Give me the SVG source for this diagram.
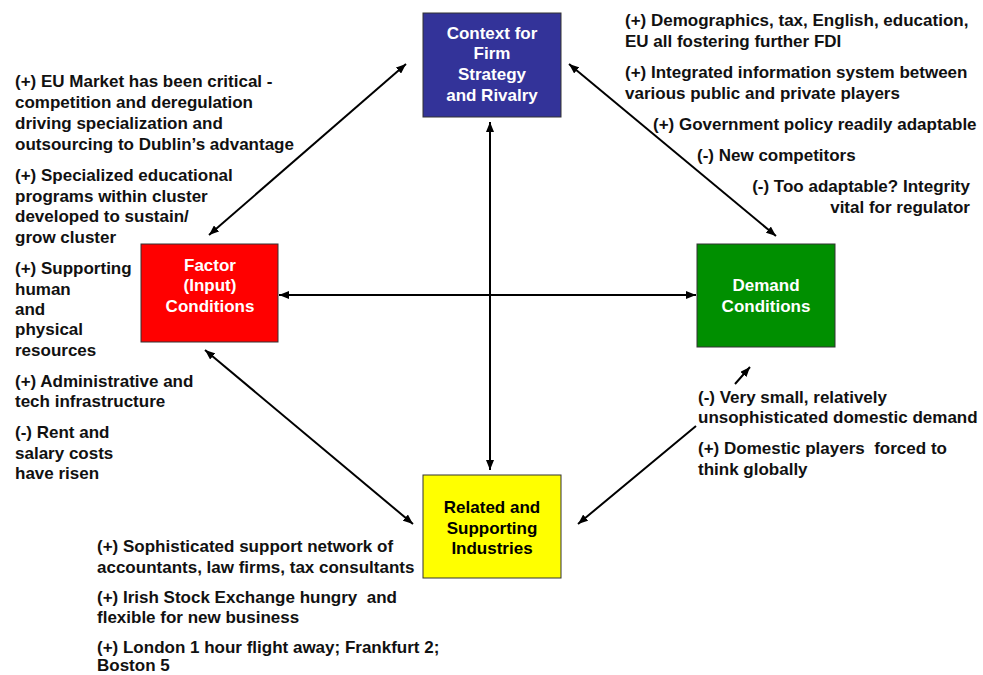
<svg xmlns="http://www.w3.org/2000/svg" width="983" height="675" viewBox="0 0 983 675">
<defs>
<marker id="ah" viewBox="0 0 10 8" refX="10" refY="4" markerWidth="10" markerHeight="8" markerUnits="userSpaceOnUse" orient="auto-start-reverse">
<path d="M0,0 L10,4 L0,8 z" fill="#000"/>
</marker>
<style>
.t{font-family:"Liberation Sans",Arial,sans-serif;font-size:17px;font-weight:bold;fill:#111;white-space:pre}
.bt{font-family:"Liberation Sans",Arial,sans-serif;font-size:17px;font-weight:bold;fill:#fff;text-anchor:middle}
.box{stroke:#333;stroke-width:1}
.c{stroke:#000;stroke-width:2;fill:none;marker-start:url(#ah);marker-end:url(#ah)}
</style>
</defs>
<rect width="983" height="675" fill="#fff"/>
<g id="connectors">
<line class="c" x1="406" y1="64" x2="209" y2="235"/>
<line class="c" x1="569" y1="64" x2="776" y2="236"/>
<line class="c" x1="205" y1="350" x2="413" y2="524"/>
<path class="c" d="M750,367 L735,384 M696,426 L578,524"/>
<line class="c" x1="279" y1="295" x2="696" y2="295"/>
<line class="c" x1="490" y1="122" x2="490" y2="470"/>
</g>
<g id="context">
<rect class="box" x="423" y="13" width="138" height="104" fill="#333399"/>
<text class="bt" x="492" y="39">Context for</text>
<text class="bt" x="492" y="59">Firm</text>
<text class="bt" x="492" y="80">Strategy</text>
<text class="bt" x="492" y="101">and Rivalry</text>
</g>
<g id="factor">
<rect class="box" x="141" y="244" width="137" height="98" fill="#ff0000"/>
<text class="bt" x="210" y="271">Factor</text>
<text class="bt" x="210" y="291">(Input)</text>
<text class="bt" x="210" y="312">Conditions</text>
</g>
<g id="demand">
<rect class="box" x="697" y="244" width="138" height="103" fill="#008f00"/>
<text class="bt" x="766" y="291">Demand</text>
<text class="bt" x="766" y="312">Conditions</text>
</g>
<g id="related">
<rect class="box" x="423" y="475" width="138" height="103" fill="#ffff00"/>
<text class="bt" x="492" y="513" style="fill:#000">Related and</text>
<text class="bt" x="492" y="534" style="fill:#000">Supporting</text>
<text class="bt" x="492" y="554" style="fill:#000">Industries</text>
</g>
<g id="notes-left">
<text class="t" x="15" y="87">(+) EU Market has been critical -</text>
<text class="t" x="15" y="108">competition and deregulation</text>
<text class="t" x="15" y="129">driving specialization and</text>
<text class="t" x="15" y="150">outsourcing to Dublin’s advantage</text>
<text class="t" x="15" y="181">(+) Specialized educational</text>
<text class="t" x="15" y="202">programs within cluster</text>
<text class="t" x="15" y="222">developed to sustain/</text>
<text class="t" x="15" y="243">grow cluster</text>
<text class="t" x="15" y="274">(+) Supporting</text>
<text class="t" x="15" y="295">human</text>
<text class="t" x="15" y="315">and</text>
<text class="t" x="15" y="335">physical</text>
<text class="t" x="15" y="356">resources</text>
<text class="t" x="15" y="387">(+) Administrative and</text>
<text class="t" x="15" y="407">tech infrastructure</text>
<text class="t" x="15" y="438">(-) Rent and</text>
<text class="t" x="15" y="459">salary costs</text>
<text class="t" x="15" y="479">have risen</text>
</g>
<g id="notes-top-right">
<text class="t" x="625" y="26">(+) Demographics, tax, English, education,</text>
<text class="t" x="625" y="47">EU all fostering further FDI</text>
<text class="t" x="625" y="78">(+) Integrated information system between</text>
<text class="t" x="625" y="99">various public and private players</text>
<text class="t" x="653" y="130">(+) Government policy readily adaptable</text>
<text class="t" x="697" y="161">(-) New competitors</text>
<text class="t" x="970" y="192" text-anchor="end">(-) Too adaptable? Integrity</text>
<text class="t" x="970" y="213" text-anchor="end">vital for regulator</text>
</g>
<g id="notes-right">
<text class="t" x="698" y="403">(-) Very small, relatively</text>
<text class="t" x="698" y="423">unsophisticated domestic demand</text>
<text class="t" x="698" y="454">(+) Domestic players  forced to</text>
<text class="t" x="698" y="475">think globally</text>
</g>
<g id="notes-bottom">
<text class="t" x="97" y="552">(+) Sophisticated support network of</text>
<text class="t" x="97" y="573">accountants, law firms, tax consultants</text>
<text class="t" x="97" y="603">(+) Irish Stock Exchange hungry  and</text>
<text class="t" x="97" y="623">flexible for new business</text>
<text class="t" x="97" y="653">(+) London 1 hour flight away; Frankfurt 2;</text>
<text class="t" x="97" y="671">Boston 5</text>
</g>
</svg>
